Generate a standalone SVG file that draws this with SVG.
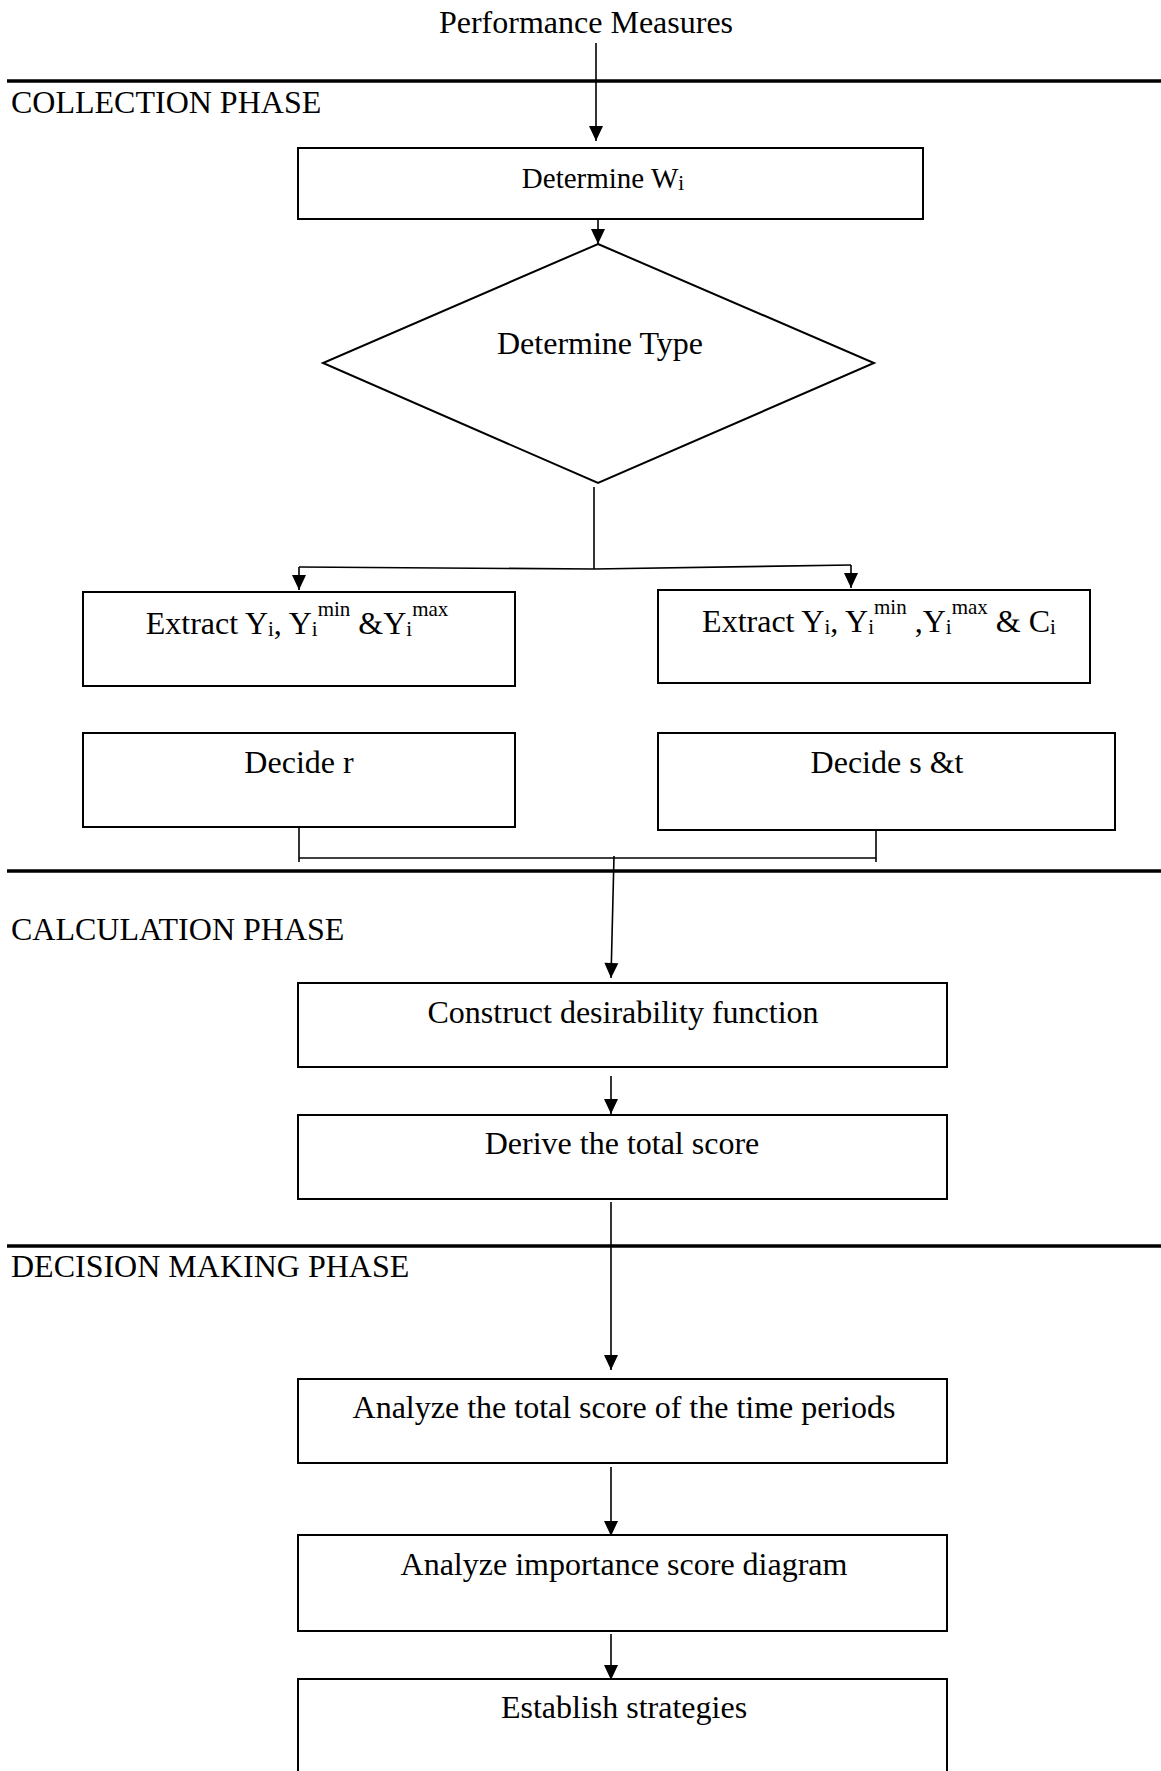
<svg xmlns="http://www.w3.org/2000/svg" width="1161" height="1771" viewBox="0 0 1161 1771">
<style>
  text { font-family: "Liberation Serif", "Times New Roman", serif; font-size: 32px; fill: #000; }
  .s { font-size: 21px; }
  .box { fill: #fff; stroke: #000; stroke-width: 2; }
  .phase { stroke: #000; stroke-width: 3.5; }
  .c { fill: none; stroke: #000; stroke-width: 1.6; }
  .a { fill: none; stroke: #000; stroke-width: 1.6; marker-end: url(#ah); }
</style>
<defs>
  <marker id="ah" viewBox="0 0 14 15" refX="15" refY="7.5" markerWidth="15" markerHeight="15" markerUnits="userSpaceOnUse" orient="auto">
    <path d="M0,0.5 L15,7.5 L0,14.5 Z" fill="#000"/>
  </marker>
</defs>
<rect width="1161" height="1771" fill="#fff"/>

<g id="phases">
  <line class="phase" x1="7" y1="81" x2="1161" y2="81"/>
  <line class="phase" x1="7" y1="871" x2="1161" y2="871"/>
  <line class="phase" x1="7" y1="1246" x2="1161" y2="1246"/>
  <text x="11" y="113">COLLECTION PHASE</text>
  <text x="11" y="940">CALCULATION PHASE</text>
  <text x="11" y="1277">DECISION MAKING PHASE</text>
</g>

<g id="start">
  <text x="586" y="33" text-anchor="middle">Performance Measures</text>
</g>

<g id="connectors">
  <line class="a" x1="596" y1="43" x2="596" y2="141"/>
  <line class="a" x1="598" y1="220" x2="598" y2="244"/>
  <line class="c" x1="594" y1="487" x2="594" y2="569"/>
  <polyline class="c" points="299,567 594,569 851,565"/>
  <line class="a" x1="299" y1="567" x2="299" y2="590"/>
  <line class="a" x1="851" y1="565" x2="851" y2="588"/>
  <line class="c" x1="299" y1="827" x2="299" y2="862"/>
  <line class="c" x1="876" y1="830" x2="876" y2="862"/>
  <line class="c" x1="299" y1="858" x2="876" y2="858"/>
  <line class="a" x1="614" y1="856" x2="611" y2="978"/>
  <line class="a" x1="611" y1="1076" x2="611" y2="1114"/>
  <line class="a" x1="611" y1="1202" x2="611" y2="1370"/>
  <line class="a" x1="611" y1="1467" x2="611" y2="1536"/>
  <line class="a" x1="611" y1="1634" x2="611" y2="1680"/>
</g>

<g id="determine-w">
  <rect class="box" x="298" y="148" width="625" height="71"/>
  <text x="603" y="188" text-anchor="middle" style="font-size:29px">Determine W<tspan class="s" dy="2">i</tspan></text>
</g>

<g id="determine-type">
  <polygon points="598,244 874,363 598,483 323,363" fill="#fff" stroke="#000" stroke-width="2"/>
  <text x="600" y="354" text-anchor="middle">Determine Type</text>
</g>

<g id="extract-left">
  <rect class="box" x="83" y="592" width="432" height="94"/>
  <text x="297" y="634" text-anchor="middle">Extract Y<tspan class="s" dy="2">i</tspan><tspan dy="-2">, Y</tspan><tspan class="s" dy="2">i</tspan><tspan class="s" dy="-20">min</tspan><tspan dy="18"> &amp;Y</tspan><tspan class="s" dy="2">i</tspan><tspan class="s" dy="-20">max</tspan></text>
</g>

<g id="extract-right">
  <rect class="box" x="658" y="590" width="432" height="93"/>
  <text x="879" y="632" text-anchor="middle">Extract Y<tspan class="s" dy="2">i</tspan><tspan dy="-2">, Y</tspan><tspan class="s" dy="2">i</tspan><tspan class="s" dy="-20">min</tspan><tspan dy="18"> ,Y</tspan><tspan class="s" dy="2">i</tspan><tspan class="s" dy="-20">max</tspan><tspan dy="18"> &amp; C</tspan><tspan class="s" dy="2">i</tspan></text>
</g>

<g id="decide-r">
  <rect class="box" x="83" y="733" width="432" height="94"/>
  <text x="299" y="773" text-anchor="middle">Decide r</text>
</g>

<g id="decide-st">
  <rect class="box" x="658" y="733" width="457" height="97"/>
  <text x="887" y="773" text-anchor="middle">Decide s &amp;t</text>
</g>

<g id="construct">
  <rect class="box" x="298" y="983" width="649" height="84"/>
  <text x="623" y="1023" text-anchor="middle">Construct desirability function</text>
</g>

<g id="derive">
  <rect class="box" x="298" y="1115" width="649" height="84"/>
  <text x="622" y="1154" text-anchor="middle">Derive the total score</text>
</g>

<g id="analyze-total">
  <rect class="box" x="298" y="1379" width="649" height="84"/>
  <text x="624" y="1418" text-anchor="middle">Analyze the total score of the time periods</text>
</g>

<g id="analyze-importance">
  <rect class="box" x="298" y="1535" width="649" height="96"/>
  <text x="624" y="1575" text-anchor="middle">Analyze importance score diagram</text>
</g>

<g id="establish">
  <rect class="box" x="298" y="1679" width="649" height="110"/>
  <text x="624" y="1718" text-anchor="middle">Establish strategies</text>
</g>
</svg>
